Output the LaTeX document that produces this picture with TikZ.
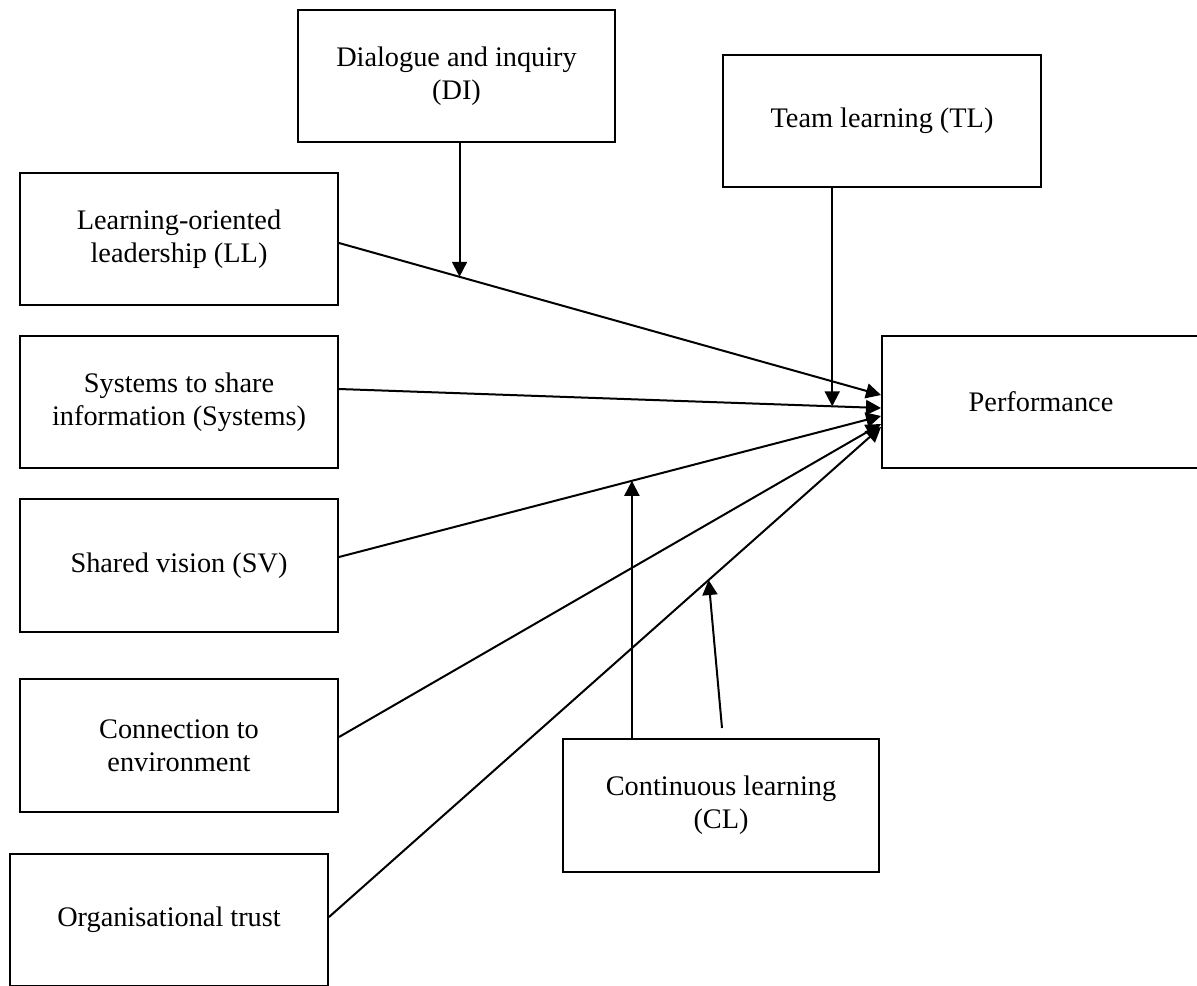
\documentclass[tikz,border=0pt]{standalone}
\usepackage{fontspec}
\setmainfont{Liberation Serif}
\usetikzlibrary{arrows.meta}
\begin{document}
\begin{tikzpicture}[x=0.5pt,y=-0.5pt,
  box/.style={draw,line width=1pt,minimum width=159pt,minimum height=66pt,inner sep=0pt,align=center,
    font=\fontsize{14.15}{16.5}\selectfont},
  conn/.style={line width=1pt,-{Triangle[length=7.5pt,width=7.5pt]}}]
\useasboundingbox (0,0) rectangle (1197,985);
\clip (0,0) rectangle (1197,985);
\node[box,minimum width=158.5pt] (DI) at (456.5,76) {Dialogue and inquiry\\(DI)};
\node[box] (TL) at (882,121) {Team learning (TL)};
\node[box] (LL) at (179,239) {Learning-oriented\\leadership (LL)};
\node[box] (SYS) at (179,402) {Systems to share\\information (Systems)};
\node[box,minimum height=66.5pt] (SV) at (179,565.5) {Shared vision (SV)};
\node[box,minimum height=66.5pt] (CE) at (179,745.5) {Connection to\\environment};
\node[box] (OT) at (169,920) {Organisational trust};
\node[box,minimum width=158pt,minimum height=66.5pt] (CL) at (721,805.5) {Continuous learning\\(CL)};
\node[box] (PERF) at (1041,402) {Performance};
% main paths
\draw[conn] ([yshift=-2pt]LL.east) -- coordinate[pos=0.2224] (mDI) ([yshift=3.5pt]PERF.west);
\draw[conn] ([yshift=6.5pt]SYS.east) -- coordinate[pos=0.91] (mTL) ([yshift=-3pt]PERF.west);
\draw[conn] ([yshift=4.25pt]SV.east) -- coordinate[pos=0.5404] (mCL1) ([yshift=-7pt]PERF.west);
\draw[conn] ([yshift=4.25pt]CE.east) -- ([yshift=-11pt]PERF.west);
\draw[conn] ([yshift=1.5pt]OT.east) -- coordinate[pos=0.6877] (mCL2) ([yshift=-12.5pt]PERF.west);
% moderators
\draw[conn] (mDI |- DI.south) -- (mDI);
\draw[conn] (mTL |- TL.south) -- (mTL);
\draw[conn] (mCL1 |- CL.north) -- (mCL1);
\draw[conn] ([xshift=0.5pt,yshift=5pt]CL.north) -- (mCL2);
\end{tikzpicture}
\end{document}
